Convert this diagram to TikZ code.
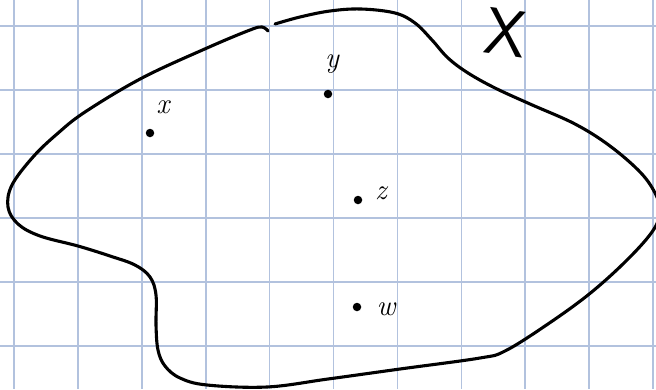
\documentclass[tikz,border=0pt]{standalone}
\usepackage{fontspec}
\begin{document}
\begin{tikzpicture}[x=1pt,y=-1pt,
  gridline/.style={draw=gridblue,line width=1.6pt},
  blob/.style={draw=black,line width=3.1pt,line cap=round,line join=round},
  ptdot/.style={circle,fill=black,inner sep=0pt,minimum size=8.5pt},
  ptlabel/.style={inner sep=0pt,font=\fontsize{29}{29}\selectfont\itshape},
  setlabel/.style={inner sep=0pt,font=\fontsize{66}{66}\selectfont\sffamily}]
\definecolor{gridblue}{RGB}{178,194,222}
\useasboundingbox (0,0) rectangle (656,389);
\fill[white] (0,0) rectangle (656,389);
\begin{scope}
\clip (0,0) rectangle (656,389);
% grid
\foreach \i in {0,...,10} {
  \draw[gridline] ({14+63.9*\i},0) -- ({14+63.9*\i},389);
}
\foreach \j in {0,...,5} {
  \draw[gridline] (0,{26+64*\j}) -- (656,{26+64*\j});
}
% blob: main stroke
\draw[blob] plot[smooth,tension=0.6] coordinates {
 (275,24) (300,17) (330,11) (361,9) (395,13) (415,23) (432,40) (448,58)
 (468,73) (495,88) (530,104) (575,124) (610,146) (641,173) (656,195)
 (660,212) (652,232) (625,262) (588,295) (545,326) (505,351) (480,358)
 (400,369) (328,379) (267,387) (207,385) (180,378) (165,366) (158,350)
 (156,325) (156,295) (150,277) (135,265) (110,256) (78,246) (40,236)
 (18,224) (8,207) (12,185) (33,157) (57,134) (85,112) (142,78) (207,48)
 (250,30) (262,27) (268,31)};
\end{scope}
% points
\node[ptdot] (px) at (150,133) {};
\node[ptdot] (py) at (328,94) {};
\node[ptdot] (pz) at (358,200) {};
\node[ptdot] (pw) at (357,307) {};
% labels
\node[ptlabel] (lx) at (163,107) {x};
\node[ptlabel] (ly) at (332,64) {y};
\node[ptlabel] (lz) at (381,193) {z};
\node[ptlabel] (lw) at (386,309) {w};
\node[setlabel,rotate=-8] (lX) at (506,33) {X};
\end{tikzpicture}
\end{document}
